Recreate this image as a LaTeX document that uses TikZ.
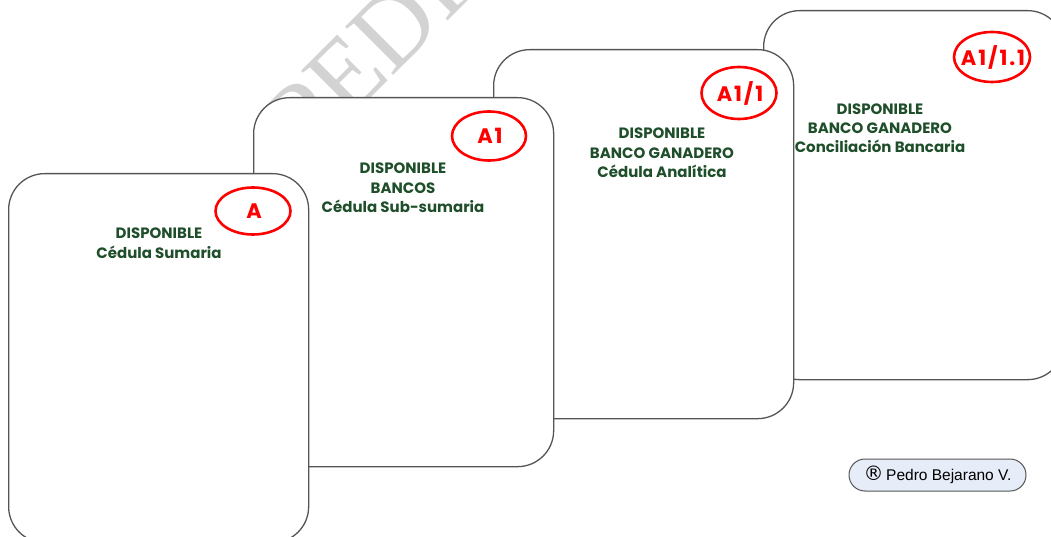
\documentclass[tikz,border=0pt]{standalone}
\usepackage{fontspec}
\setmainfont{Liberation Sans}
\newfontfamily\popfont{Poppins}
\newfontfamily\wmfont{Liberation Serif}
\newfontfamily\symfont{DejaVu Sans}
\usetikzlibrary{shapes.geometric}
\definecolor{txtgreen}{RGB}{30,78,42}
\definecolor{wmgray}{RGB}{211,211,211}
\definecolor{cardline}{RGB}{85,85,85}
\definecolor{pillfill}{RGB}{230,236,248}
\begin{document}
\begin{tikzpicture}[x=1pt,y=-1pt,
  card/.style={draw=cardline, line width=1.3pt, fill=white, rounded corners=36pt,
    minimum width=300pt, minimum height=369pt, inner sep=0pt, anchor=north west},
  tagring/.style={ellipse, draw=red, line width=2.6pt, inner sep=0pt},
  tagtext/.style={text=red, inner sep=0pt,
    font=\popfont\bfseries\fontsize{21}{21}\selectfont\addfontfeature{LetterSpace=9}},
  title/.style={align=center, text=txtgreen, inner sep=0pt, anchor=north,
    font=\popfont\bfseries\fontsize{15}{19.3}\selectfont},
  watermark/.style={rotate=45, anchor=base west, text=wmgray, inner sep=0pt,
    font=\wmfont\fontsize{104}{104}\selectfont},
  pill/.style={draw=cardline, line width=1pt, fill=pillfill, rounded corners=16pt,
    minimum width=177pt, minimum height=32pt, inner sep=0pt,
    font=\fontsize{15.5}{16}\selectfont}
]
\useasboundingbox (0,0) rectangle (1051,537);
\clip (0,0) rectangle (1051,537);
\fill[white] (0,0) rectangle (1051,537);
\node[watermark] (wm) at (306,163) {PEDRO};
% cards, back to front
\node[card] (c4) at (763,10) {};
\node[card] (c3) at (493,49) {};
\node[card] (c2) at (253,97) {};
\node[card] (c1) at (8,173) {};
% red tags
\node[tagring, minimum width=76pt, minimum height=50pt] (e4) at (992,57) {};
\node[tagtext] (t4) at ([xshift=1pt]e4) {A1/1.1};
\node[tagring, minimum width=75pt, minimum height=52pt] (e3) at (739,93) {};
\node[tagtext] (t3) at ([xshift=1pt]e3) {A1/1};
\node[tagring, minimum width=74pt, minimum height=49pt] (e2) at (489,136) {};
\node[tagtext] (t2) at ([xshift=1pt]e2) {A1};
\node[tagring, minimum width=75pt, minimum height=47pt] (e1) at (253,211) {};
\node[tagtext] (t1) at ([xshift=1pt]e1) {A};
% titles
\node[title] (h1) at (159,228) {DISPONIBLE\\Cédula Sumaria};
\node[title] (h2) at (403,163) {DISPONIBLE\\BANCOS\\Cédula Sub-sumaria};
\node[title] (h3) at (662,128) {DISPONIBLE\\BANCO GANADERO\\Cédula Analítica};
\node[title] (h4) at (880,103.5) {DISPONIBLE\\BANCO GANADERO\\Conciliación Bancaria};
% signature
\node[pill] (sig) at (937.5,475) {{\symfont\fontsize{20}{16}\selectfont ®}\,Pedro Bejarano V.};
\end{tikzpicture}
\end{document}
